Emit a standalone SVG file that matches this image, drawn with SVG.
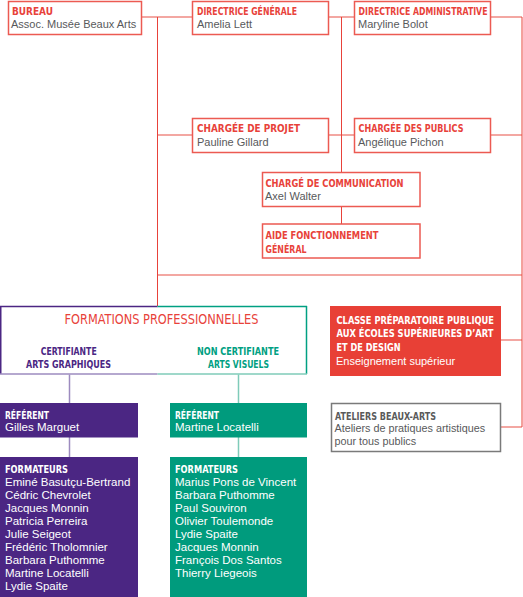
<svg xmlns="http://www.w3.org/2000/svg" width="523" height="597" viewBox="0 0 523 597">
<style>
.bg{fill:#ffffff}
.box{fill:#ffffff;stroke:#ec5a52;stroke-width:1.5}
.gbox{fill:#ffffff;stroke:#7a7a7a;stroke-width:1.5}
.h{font-family:"DejaVu Sans Condensed","DejaVu Sans",sans-serif;font-weight:bold;font-size:11px;fill:#e8423a}
.t{font-family:"Liberation Sans",Arial,sans-serif;font-size:11px;fill:#58595b}
.l{font-size:11.5px}
.w{fill:#ffffff}
.v{stroke:#e8423a;stroke-width:1;fill:none}
.hz{stroke:#f08a84;stroke-width:1.6;fill:none}
</style>
<rect class="bg" x="0" y="0" width="523" height="597"/>
<g id="connectors">
<path class="hz" d="M141 17H192M328 17H354M490 17H522M157 135H192M328 135H354M490 135H522M157 275H522M501 340H522M500 427H522"/>
<path class="v" d="M157.5 17V306M341.5 17V172M341.5 206V224M522 17V427"/>
<path d="M69.5 374V403M69.5 437V457" stroke="#9d8bbf" stroke-width="1.5" fill="none"/>
<path d="M238.5 374V403M238.5 437V457" stroke="#7fcbb9" stroke-width="1.5" fill="none"/>
</g>
<g id="bureau">
<rect class="box" x="8.5" y="1.5" width="133" height="33"/>
<text class="h" x="12" y="15" textLength="41" lengthAdjust="spacingAndGlyphs">BUREAU</text>
<text class="t" x="11" y="28">Assoc. Musée Beaux Arts</text>
</g>
<g id="directrice-generale">
<rect class="box" x="192.5" y="1.5" width="136" height="33"/>
<text class="h" x="197" y="15" textLength="100" lengthAdjust="spacingAndGlyphs">DIRECTRICE GÉNÉRALE</text>
<text class="t" x="197" y="28">Amelia Lett</text>
</g>
<g id="directrice-administrative">
<rect class="box" x="354.5" y="1.5" width="136" height="33"/>
<text class="h" x="358.5" y="15" textLength="129" lengthAdjust="spacingAndGlyphs">DIRECTRICE ADMINISTRATIVE</text>
<text class="t" x="358" y="28">Maryline Bolot</text>
</g>
<g id="chargee-projet">
<rect class="box" x="192.5" y="118.5" width="136" height="34"/>
<text class="h" x="197" y="132" textLength="103" lengthAdjust="spacingAndGlyphs">CHARGÉE DE PROJET</text>
<text class="t" x="197" y="146">Pauline Gillard</text>
</g>
<g id="chargee-publics">
<rect class="box" x="354.5" y="118.5" width="136" height="34"/>
<text class="h" x="358.5" y="132" textLength="105" lengthAdjust="spacingAndGlyphs">CHARGÉE DES PUBLICS</text>
<text class="t" x="358" y="146">Angélique Pichon</text>
</g>
<g id="charge-communication">
<rect class="box" x="262.5" y="172.5" width="157.5" height="34"/>
<text class="h" x="265.5" y="187" textLength="138" lengthAdjust="spacingAndGlyphs">CHARGÉ DE COMMUNICATION</text>
<text class="t" x="265" y="200">Axel Walter</text>
</g>
<g id="aide-fonctionnement">
<rect class="box" x="262.5" y="224" width="157.5" height="34"/>
<text class="h" x="265.5" y="239" textLength="113" lengthAdjust="spacingAndGlyphs">AIDE FONCTIONNEMENT</text>
<text class="h" x="265.5" y="253" textLength="41" lengthAdjust="spacingAndGlyphs">GÉNÉRAL</text>
</g>
<g id="formations">
<rect x="0" y="306" width="307" height="68.5" fill="#ffffff"/>
<path d="M0.75 306V374M0 306.5H157.5" stroke="#4b2683" stroke-width="1.5" fill="none"/>
<path d="M157.5 306.5H307M306.5 306V374" stroke="#00a082" stroke-width="1.5" fill="none"/>
<path d="M0 374H157.5" stroke="#9d8bbf" stroke-width="1.6" fill="none"/>
<path d="M157.5 374H307" stroke="#7fcbb9" stroke-width="1.6" fill="none"/>
<text class="h" x="64.5" y="324" textLength="194" lengthAdjust="spacingAndGlyphs" style="font-size:14px;font-weight:normal">FORMATIONS PROFESSIONNELLES</text>
<text class="h" x="40.7" y="354.5" textLength="56" lengthAdjust="spacingAndGlyphs" style="fill:#4b2683">CERTIFIANTE</text>
<text class="h" x="26" y="368" textLength="85" lengthAdjust="spacingAndGlyphs" style="fill:#4b2683">ARTS GRAPHIQUES</text>
<text class="h" x="197" y="354.5" textLength="82" lengthAdjust="spacingAndGlyphs" style="fill:#00a082">NON CERTIFIANTE</text>
<text class="h" x="208" y="368" textLength="61" lengthAdjust="spacingAndGlyphs" style="fill:#00a082">ARTS VISUELS</text>
</g>
<g id="referent-certifiante">
<rect x="0" y="403" width="138" height="34.5" fill="#4b2683"/>
<text class="h w" x="5" y="418.5" textLength="44" lengthAdjust="spacingAndGlyphs">RÉFÉRENT</text>
<text class="t w l" x="5" y="431">Gilles Marguet</text>
</g>
<g id="referent-non-certifiante">
<rect x="170" y="403" width="137" height="34.5" fill="#009b7d"/>
<text class="h w" x="175" y="418.5" textLength="44" lengthAdjust="spacingAndGlyphs">RÉFÉRENT</text>
<text class="t w l" x="175" y="431">Martine Locatelli</text>
</g>
<g id="formateurs-certifiante">
<rect x="0" y="457" width="138" height="140" fill="#4b2683"/>
<text class="h w" x="5" y="472.5" textLength="63" lengthAdjust="spacingAndGlyphs">FORMATEURS</text>
<text class="t w l" x="5" y="486">Eminé Basutçu-Bertrand</text>
<text class="t w l" x="5" y="499">Cédric Chevrolet</text>
<text class="t w l" x="5" y="512">Jacques Monnin</text>
<text class="t w l" x="5" y="525">Patricia Perreira</text>
<text class="t w l" x="5" y="538">Julie Seigeot</text>
<text class="t w l" x="5" y="551">Frédéric Tholomnier</text>
<text class="t w l" x="5" y="564">Barbara Puthomme</text>
<text class="t w l" x="5" y="577">Martine Locatelli</text>
<text class="t w l" x="5" y="590">Lydie Spaite</text>
</g>
<g id="formateurs-non-certifiante">
<rect x="170" y="457" width="137" height="140" fill="#009b7d"/>
<text class="h w" x="175" y="472.5" textLength="63" lengthAdjust="spacingAndGlyphs">FORMATEURS</text>
<text class="t w l" x="175" y="486">Marius  Pons de Vincent</text>
<text class="t w l" x="175" y="499">Barbara Puthomme</text>
<text class="t w l" x="175" y="512">Paul Souviron</text>
<text class="t w l" x="175" y="525">Olivier Toulemonde</text>
<text class="t w l" x="175" y="538">Lydie Spaite</text>
<text class="t w l" x="175" y="551">Jacques Monnin</text>
<text class="t w l" x="175" y="564">François Dos Santos</text>
<text class="t w l" x="175" y="577">Thierry Liegeois</text>
</g>
<g id="classe-preparatoire">
<rect x="330" y="306" width="171" height="70" fill="#e84036"/>
<text class="h w" x="336.5" y="324" textLength="157.5" lengthAdjust="spacingAndGlyphs">CLASSE PRÉPARATOIRE PUBLIQUE</text>
<text class="h w" x="336.5" y="337" textLength="157" lengthAdjust="spacingAndGlyphs">AUX ÉCOLES SUPÉRIEURES D’ART</text>
<text class="h w" x="336.5" y="351" textLength="64" lengthAdjust="spacingAndGlyphs">ET DE DESIGN</text>
<text class="t w" x="336" y="364.5">Enseignement supérieur</text>
</g>
<g id="ateliers">
<rect class="gbox" x="331.5" y="403.5" width="169" height="48"/>
<text class="h" x="335" y="419.5" textLength="101" lengthAdjust="spacingAndGlyphs" style="fill:#5a5a5a">ATELIERS BEAUX-ARTS</text>
<text class="t" x="334.5" y="432" style="font-size:10.8px">Ateliers de pratiques artistiques</text>
<text class="t" x="334.5" y="444.5" style="font-size:10.8px">pour tous publics</text>
</g>
</svg>
